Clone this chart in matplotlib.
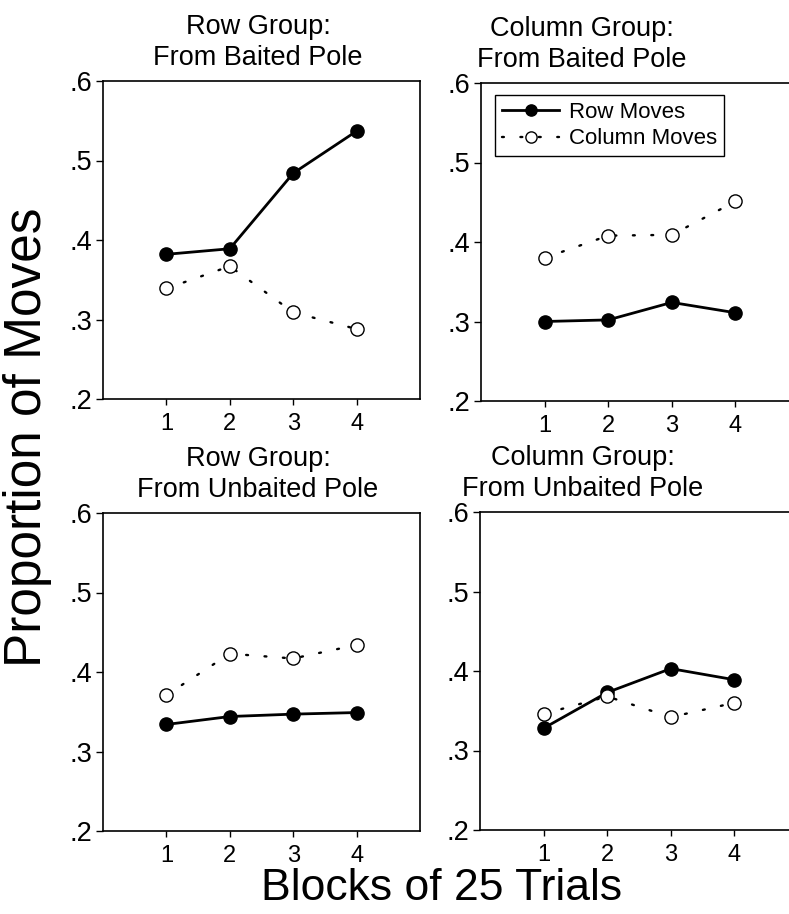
import matplotlib
matplotlib.use("Agg")
import matplotlib.pyplot as plt
from matplotlib.ticker import FuncFormatter

plt.rcParams['font.family'] = ['Liberation Sans', 'DejaVu Sans']

# --- data ---
blocks = [1, 2, 3, 4]
panel_titles = ["Row Group:\nFrom Baited Pole", "Column Group:\nFrom Baited Pole",
                "Row Group:\nFrom Unbaited Pole", "Column Group:\nFrom Unbaited Pole"]
row_moves = [
    [0.382, 0.389, 0.484, 0.537],
    [0.300, 0.302, 0.324, 0.311],
    [0.334, 0.344, 0.347, 0.349],
    [0.328, 0.373, 0.403, 0.389],
]
column_moves = [
    [0.339, 0.367, 0.309, 0.288],
    [0.380, 0.408, 0.409, 0.451],
    [0.371, 0.423, 0.417, 0.434],
    [0.346, 0.368, 0.342, 0.360],
]
y_ticks = [0.2, 0.3, 0.4, 0.5, 0.6]

W, H = 789, 914
fig = plt.figure(figsize=(W / 100, H / 100), dpi=100)

# axes boxes in pixels: left, top, right, bottom
boxes = [(103, 81, 420, 399), (481, 83, 799, 401),
         (103, 513, 420, 831), (480, 512, 798, 830)]
# horizontal centre of each title, in pixels
title_x = [258, 582, 258, 583]

for i, (l, t, r, b) in enumerate(boxes):
    ax = fig.add_axes([l / W, 1 - b / H, (r - l) / W, (b - t) / H])
    ax.plot(blocks, row_moves[i], color='black', lw=2.0, marker='o',
            markersize=9.5, markerfacecolor='black', label='Row Moves', zorder=3)
    ax.plot(blocks, column_moves[i], color='black', lw=1.7, linestyle=(0, (0.8, 7)),
            dash_capstyle='round', marker='o', markersize=9.5,
            markerfacecolor='white', markeredgewidth=1.0,
            label='Column Moves', zorder=4)

    ax.set_xlim(0, 5)
    ax.set_ylim(0.2, 0.6)
    ax.set_xticks(blocks)
    ax.set_yticks(y_ticks)
    ax.yaxis.set_major_formatter(FuncFormatter(lambda v, p: f"{v:.1f}".lstrip('0')))
    ax.tick_params(axis='y', direction='out', length=5, width=1, pad=3, labelsize=19.5)
    ax.tick_params(axis='x', direction='out', length=4, width=1, pad=6, labelsize=17)
    for s in ax.spines.values():
        s.set_linewidth(1.2)
        s.set_color('black')

    fig.text(title_x[i] / W, 1 - (t - 10) / H, panel_titles[i], ha='center', va='bottom',
             fontsize=19.5, linespacing=1.25)

    if i == 1:
        ax.legend(loc='upper left', bbox_to_anchor=(0.044, 0.962), borderaxespad=0,
                  fontsize=16, frameon=True, fancybox=False, edgecolor='black',
                  framealpha=1, handlelength=2.6, handletextpad=0.45, markerscale=0.85,
                  borderpad=0.3, labelspacing=0.25)
        ax.get_legend().get_frame().set_linewidth(1.0)

fig.text(28 / W, 1 - 437 / H, "Proportion of Moves", rotation=90, ha='center',
         va='center', fontsize=37)
fig.text(442 / W, 1 - 889 / H, "Blocks of 25 Trials", ha='center', va='center',
         fontsize=32)

fig.savefig("out.png", dpi=100)
